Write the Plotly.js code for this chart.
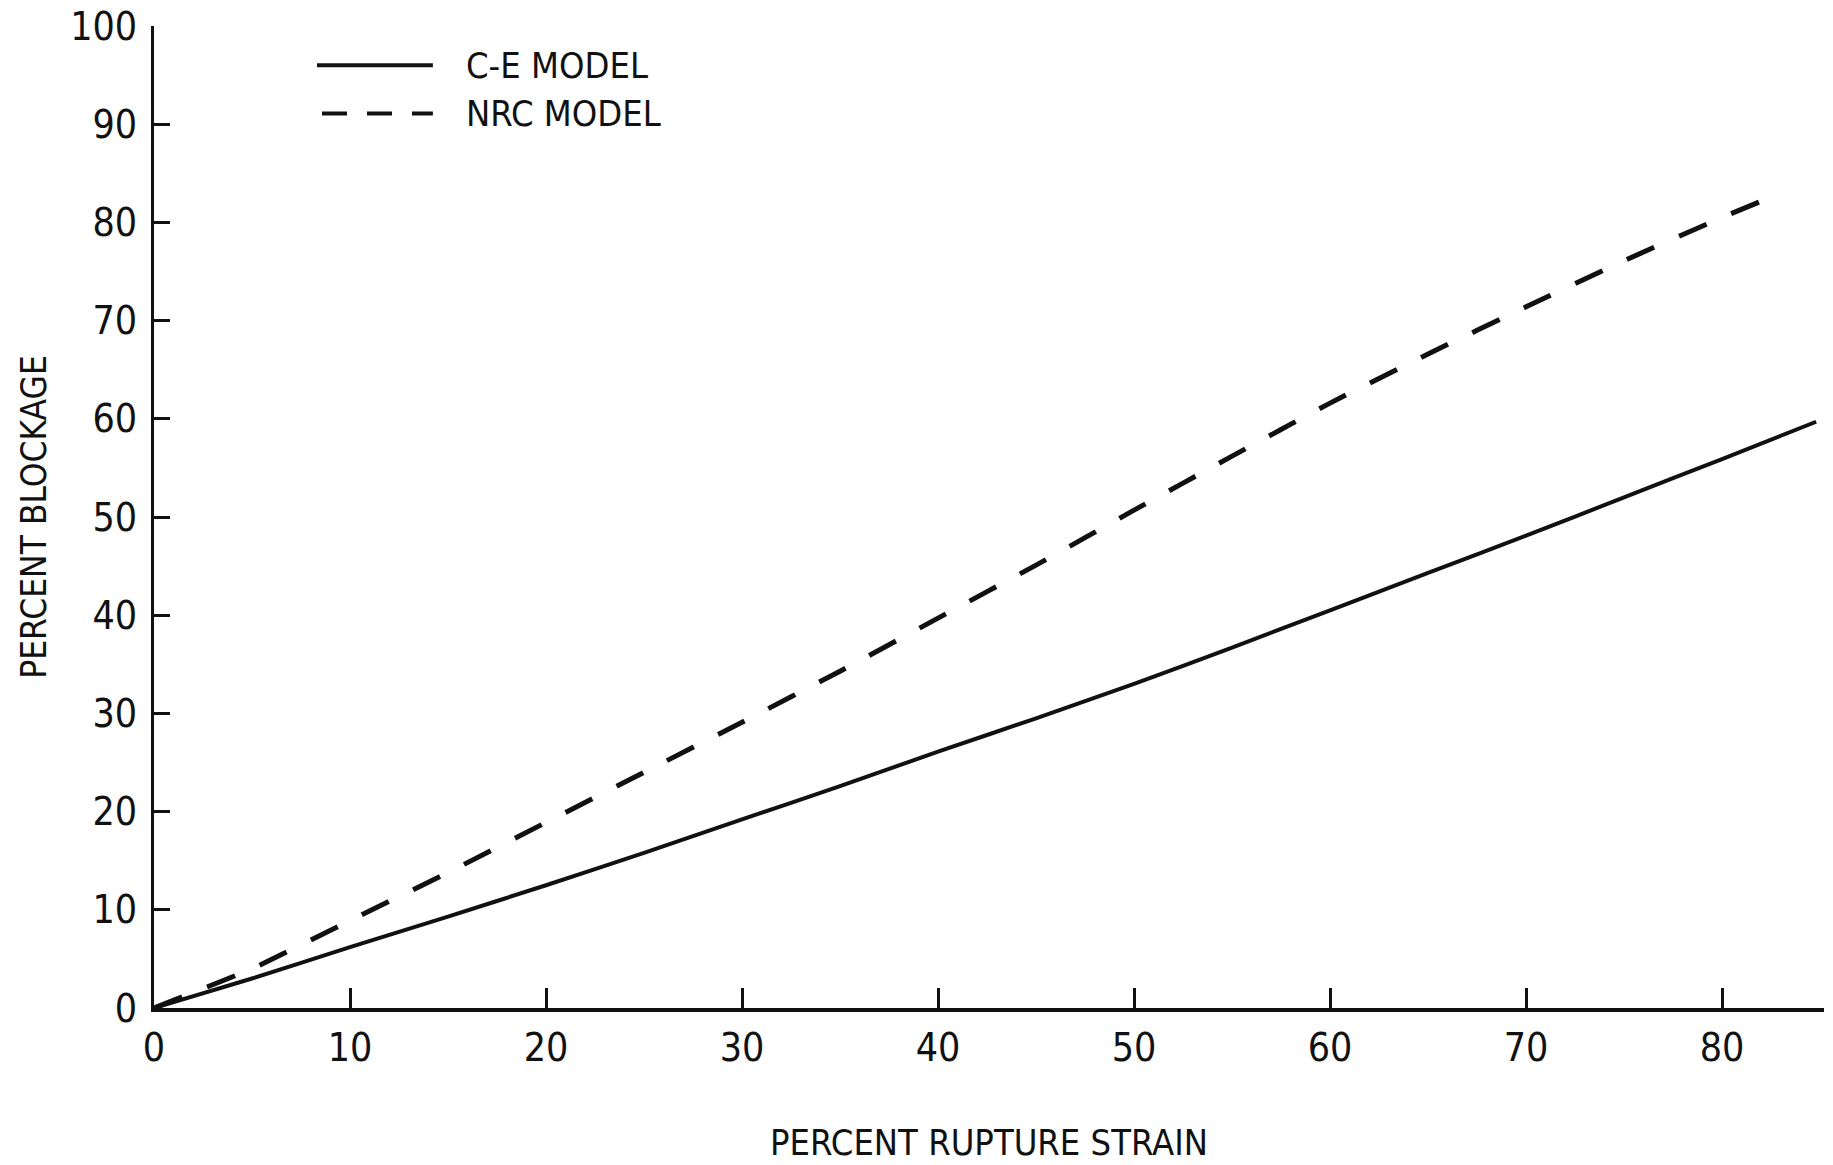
<!DOCTYPE html>
<html>
<head>
<meta charset="utf-8">
<script src="https://cdn.plot.ly/plotly-3.0.1.min.js"></script>
<style>
  html, body { margin: 0; padding: 0; background: #ffffff; }
  #chart { width: 1833px; height: 1165px; }
</style>
</head>
<body>
<div id="chart"></div>
<script>
// ---- data ----
const ceStrain   = [0, 5, 10, 15, 20, 25, 30, 35, 40, 45, 50, 55, 60, 65, 70, 75, 80, 84.8];
const ceBlockage = [0, 3.0, 6.2, 9.3, 12.5, 15.8, 19.2, 22.6, 26.1, 29.5, 33.0, 36.7, 40.5, 44.3, 48.1, 52.0, 55.9, 59.7];

const nrcStrain   = [0, 5, 10, 15, 20, 25, 30, 35, 40, 45, 50, 55, 60, 65, 70, 75, 80, 83];
const nrcBlockage = [0, 4.0, 8.9, 13.8, 18.9, 24.0, 29.1, 34.3, 39.7, 45.1, 50.7, 56.2, 61.6, 66.6, 71.4, 76.1, 80.5, 83.0];

const seriesNames = ["C-E MODEL", "NRC MODEL"];
const xTickVals = [0, 10, 20, 30, 40, 50, 60, 70, 80];
const yTickVals = [0, 10, 20, 30, 40, 50, 60, 70, 80, 90, 100];
const xTitle = "PERCENT RUPTURE STRAIN";
const yTitle = "PERCENT BLOCKAGE";

const FONT = "'Liberation Sans Narrow', 'DejaVu Sans Condensed', 'Liberation Sans', sans-serif";
const INK = "#111111";

const traces = [
  {
    x: ceStrain, y: ceBlockage, name: seriesNames[0],
    type: "scatter", mode: "lines", showlegend: false,
    line: { color: INK, width: 4, shape: "spline", smoothing: 0.4 }
  },
  {
    x: nrcStrain, y: nrcBlockage, name: seriesNames[1],
    type: "scatter", mode: "lines", showlegend: false,
    line: { color: INK, width: 5, dash: "30px,27px", shape: "spline", smoothing: 0.4 }
  }
];

const layout = {
  width: 1833, height: 1165,
  paper_bgcolor: "#ffffff", plot_bgcolor: "#ffffff",
  margin: { l: 154, r: 9, t: 26, b: 157 },
  font: { family: FONT, size: 36, color: INK },
  showlegend: false,
  xaxis: {
    range: [0, 85.2], tickvals: xTickVals, ticktext: xTickVals.map(String),
    ticks: "inside", ticklen: 20, tickwidth: 3, tickcolor: INK,
    showline: true, linewidth: 4, linecolor: INK,
    showgrid: false, zeroline: false,
    tickfont: { family: FONT, size: 39, color: INK },
    ticklabelstandoff: 2,
    ticklabeloverflow: "allow",
    title: { text: xTitle, font: { family: FONT, size: 36, color: INK }, standoff: 62 }
  },
  yaxis: {
    range: [0, 100], tickvals: yTickVals, ticktext: yTickVals.map(String),
    ticks: "inside", ticklen: 16, tickwidth: 3, tickcolor: INK,
    showline: true, linewidth: 3, linecolor: INK,
    showgrid: false, zeroline: false,
    tickfont: { family: FONT, size: 39, color: INK },
    ticklabelstandoff: 6,
    ticklabeloverflow: "allow",
    title: { text: yTitle, font: { family: FONT, size: 35, color: INK }, standoff: 13 }
  },
  shapes: [
    { type: "line", xref: "paper", yref: "paper", x0: 0.0976, x1: 0.167, y0: 0.960, y1: 0.960,
      line: { color: INK, width: 4 } },
    { type: "line", xref: "paper", yref: "paper", x0: 0.1006, x1: 0.167, y0: 0.911, y1: 0.911,
      line: { color: INK, width: 4, dash: "25px,20px" } }
  ],
  annotations: [
    { xref: "paper", yref: "paper", x: 0.1856, y: 0.960, xanchor: "left", yanchor: "middle",
      text: seriesNames[0], showarrow: false, font: { family: FONT, size: 36, color: INK } },
    { xref: "paper", yref: "paper", x: 0.1856, y: 0.911, xanchor: "left", yanchor: "middle",
      text: seriesNames[1], showarrow: false, font: { family: FONT, size: 36, color: INK } }
  ]
};

Plotly.newPlot("chart", traces, layout, { displayModeBar: false, staticPlot: true });
</script>
</body>
</html>
